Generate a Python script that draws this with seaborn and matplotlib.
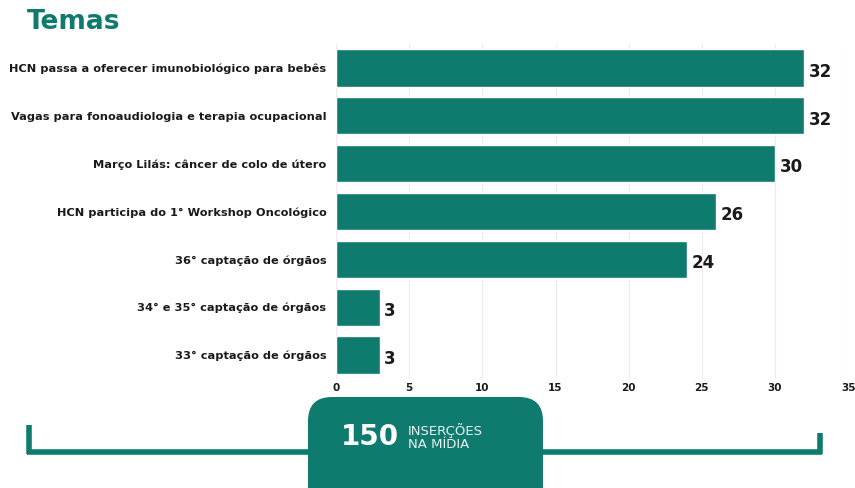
"""
plot.py
Gráfico de barras horizontais: temas x inserções na mídia.
"""

import matplotlib.pyplot as plt
import matplotlib.patches as mpatches
import seaborn as sns
import pandas as pd

temas = [
    "HCN passa a oferecer imunobiológico para bebês",
    "Vagas para fonoaudiologia e terapia ocupacional",
    "Março Lilás: câncer de colo de útero",
    "HCN participa do 1° Workshop Oncológico",
    "36° captação de órgãos",
    "34° e 35° captação de órgãos",
    "33° captação de órgãos",
]
insercoes = [32, 32, 30, 26, 24, 3, 3]
total_insercoes = 150
xticks = [0, 5, 10, 15, 20, 25, 30, 35]

VERDE = "#0f7a6e"
TEXTO = "#1a1a1a"

sns.set_theme(style="white")
plt.rcParams["font.family"] = ["DejaVu Sans"]

df = pd.DataFrame({"tema": temas, "insercoes": insercoes})

fig = plt.figure(figsize=(8.55, 4.88), dpi=100)
ax = fig.add_axes([0.393, 0.2234, 0.599, 0.6866])

sns.barplot(data=df, x="insercoes", y="tema", color=VERDE, saturation=1,
            width=0.78, ax=ax, zorder=3)

ax.set_xlim(0, 35)
ax.set_xticks(xticks)
ax.set_xticklabels([str(t) for t in xticks], fontsize=7.5, color=TEXTO,
                   fontweight="bold")
ax.tick_params(axis="x", length=0, pad=3)
ax.tick_params(axis="y", length=0, pad=7)
for lbl in ax.get_yticklabels():
    lbl.set_fontsize(8.2)
    lbl.set_fontweight("bold")
    lbl.set_color(TEXTO)
ax.set_xlabel("")
ax.set_ylabel("")
ax.grid(axis="x", color="#ececec", linewidth=0.8, zorder=0)
for s in ax.spines.values():
    s.set_visible(False)

for bar, val in zip(ax.patches, insercoes):
    ax.text(bar.get_width() + 0.3, bar.get_y() + bar.get_height() / 2 + 0.08,
            str(val), va="center", ha="left", fontsize=12,
            fontweight="bold", color=TEXTO)

# título
fig.text(0.032, 0.955, "Temas", fontsize=19, fontweight="bold",
         color=VERDE, va="center", ha="left")

# colchete inferior + caixa do total
linha = dict(color=VERDE, linewidth=4, solid_capstyle="butt",
             transform=fig.transFigure)
fig.add_artist(plt.Line2D([29 / 855, 29 / 855], [1 - 425 / 488, 1 - 454 / 488], **linha))
fig.add_artist(plt.Line2D([27 / 855, 320 / 855], [1 - 452 / 488, 1 - 452 / 488], **linha))
fig.add_artist(plt.Line2D([530 / 855, 822 / 855], [1 - 452 / 488, 1 - 452 / 488], **linha))
fig.add_artist(plt.Line2D([820 / 855, 820 / 855], [1 - 433 / 488, 1 - 454 / 488], **linha))

caixa = mpatches.FancyBboxPatch((308 / 855, -0.1), 235 / 855, 1 - 397 / 488 + 0.1,
                                boxstyle="round,pad=0,rounding_size=0.028",
                                transform=fig.transFigure, facecolor=VERDE,
                                edgecolor="none", mutation_aspect=855 / 488)
fig.add_artist(caixa)

fig.text(341 / 855, 1 - 437 / 488, str(total_insercoes), fontsize=20,
         fontweight="bold", color="white", ha="left", va="center")
fig.text(408 / 855, 1 - 437 / 488, "INSERÇÕES\nNA MÍDIA", fontsize=9.5,
         color="#e8f2f0", ha="left", va="center", linespacing=0.95)

plt.savefig("out.png", dpi=100)
plt.close()
